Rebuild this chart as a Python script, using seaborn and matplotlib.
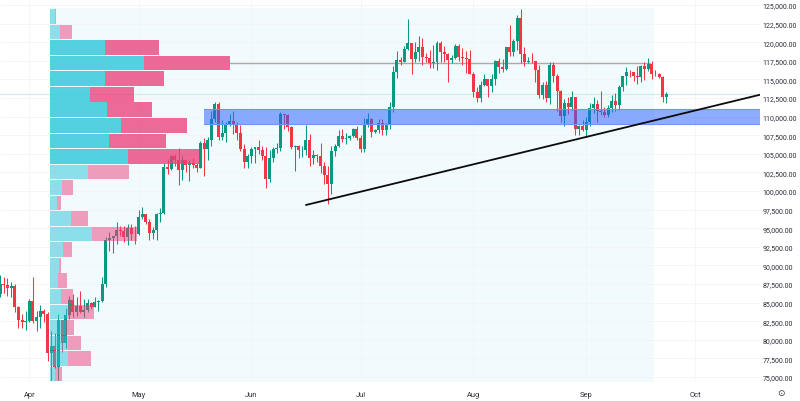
import numpy as np
import pandas as pd
import matplotlib
matplotlib.use("Agg")
import matplotlib.pyplot as plt
import seaborn as sns

first_day = "2025-03-24"
opens = [86100,87500,87400,86900,87200,84350,82600,82400,
82550,85150,82500,83100,83850,83500,78200,79200,76300,82600,79600,83400,85300,83700,84550,83700,84050,84950,84450,85050,85150,87500,93450,93700,93950,94700,94650,93750,95050,94250,
94200,96500,96900,95850,94300,94750,96850,97050,103250,102950,104650,104100,102800,104150,103500,103750,103500,103150,106450,105600,106800,109650,111700,107300,107800,108950,109450,109000,107800,105600,103950,
104650,105700,105900,105450,104750,101550,104400,105650,105750,110300,110250,108650,105900,106050,105450,105550,106800,104500,104800,104650,103300,102150,100950,105400,106050,107350,106950,107100,107350,108400,
107150,105700,108850,109650,107950,108250,109200,108250,108950,111300,115950,117550,117400,119100,119850,117750,118650,119400,117950,117900,117250,117400,119950,118700,118400,117600,117900,119450,118000,117850,117800,
115750,113300,112550,114200,115050,114100,115000,117500,116700,116450,119300,118700,120150,123300,118350,117400,117500,117450,116250,112900,114250,112500,116900,115400,113500,110100,111800,111250,112600,108400,108800,
108250,109250,111200,111700,110700,110650,110200,111150,112050,111500,113950,115500,116050,115950,115400,115350,116800,116450,117100,115700,115700,115300,112700]
highs = [88700,88500,88250,87800,87500,84600,83500,83900,
85500,88500,83900,84700,84200,83800,81200,80900,83500,82700,84300,85900,86100,85800,86500,85500,85500,85100,85700,85300,88500,93800,94500,94000,95800,95300,95300,95600,95500,95300,
97400,97900,96950,96300,95200,97000,97700,103800,104300,104900,105000,105800,104900,104300,104200,104500,103700,106700,107100,107300,110800,112000,111950,109500,109300,110400,110700,109300,108900,106300,105000,
105900,105950,106800,106000,105900,105500,105900,106500,110600,110400,110400,108800,106200,106200,106100,108900,107700,105500,105000,106500,103900,103400,106000,106300,108200,108300,107800,107500,108500,108800,
107550,109800,110500,109750,108400,109700,109700,109200,111900,116800,118800,118000,119500,123100,119950,120000,120800,120600,118500,118900,119650,120200,120100,119500,118500,118300,119800,119800,119200,118800,118900,
116000,114000,114800,115700,115100,115700,117600,117900,117800,119300,122300,120400,123700,124500,119300,118000,118600,117500,117000,114600,114800,117400,117300,115700,113600,112400,112600,113500,112700,108900,109500,
109900,111800,112600,112200,113400,111300,111600,112900,113200,114300,115500,116650,116300,116050,116800,117000,117300,117900,117450,116300,115900,115450,113300]
lows = [85700,86300,85900,85800,83800,81650,81600,81300,
82450,82300,81200,81650,82400,77200,74500,76200,74600,78400,78900,82800,83000,83200,83600,83100,83800,84100,84350,83900,85100,87100,91900,91700,92900,93900,93100,92800,93400,92900,
94100,96300,95600,93400,93500,93400,95800,96900,102300,102800,103300,100800,101500,102600,101400,103100,102600,103100,102000,104200,106100,109300,106800,106900,106600,108700,107600,106800,105400,103100,103100,
103800,103700,105000,104200,100400,101200,103900,105100,105400,108300,108100,105700,102700,104500,104600,104900,103300,103600,103900,102400,100900,98200,99600,104700,105900,106600,106300,106800,107200,106800,
105300,105200,108600,107300,107800,107800,107500,107500,108400,110600,115200,116900,117300,118900,115700,117400,117500,117000,117300,116500,116500,116200,117300,117400,114700,117200,117800,117500,116900,115800,115700,
112700,112000,111900,114100,112650,113350,114300,115900,116000,116300,118100,118200,118900,117200,116800,117200,117200,114700,112500,112300,112000,111700,114600,110800,109300,108800,110400,110900,107500,107500,108100,
107300,108700,110500,109300,110200,110000,110000,110650,110800,110900,113400,114300,115300,114800,114400,114700,114900,116150,115100,115500,115200,111900,111800]
closes = [87500,87400,86900,87200,84350,82600,82400,82550,
85150,82500,83100,83850,83500,78200,79200,76300,82600,79600,83400,85300,83700,84550,83700,84050,84950,84450,85050,85150,87500,93450,93700,93950,94700,94650,93750,95050,94250,94200,
96500,96900,95850,94300,94750,96850,97050,103250,102950,104650,104100,102800,104150,103500,103750,103500,103150,106450,105600,106800,109650,111700,107300,107800,108950,109450,109000,107800,105600,103950,104650,
105700,105900,105450,104750,101550,104400,105650,105750,110300,110250,108650,105900,106050,105450,105550,106800,104500,104800,104650,103300,102150,100950,105400,106050,107350,106950,107100,107350,108400,107150,
105700,108850,109650,107950,108250,109200,108250,108950,111300,115950,117550,117400,119100,119850,117750,118650,119400,117950,117900,117250,117400,119950,118700,118400,117600,117900,119450,118000,117850,117800,115750,
113300,112550,114200,115050,114100,115000,117500,116700,116450,119300,118700,120150,123300,118350,117400,117500,117450,116250,112900,114250,112500,116900,115400,113500,110100,111800,111250,112600,108400,108800,108250,
109250,111200,111700,110700,110650,110200,111150,112050,111500,113950,115500,116050,115950,115400,115350,116800,116450,117100,115700,115700,115300,112700,113000]

profile_levels = [123460,121370,119280,117190,115100,113010,110920,108830,106740,104650,102560,100470,98380,96290,94200,92110,90020,87930,85840,83750,81660,79570,77480,75390]
buy_volume = [4.5,10,55,94,55,40,57,71,59,78,38,12,6.7,20.7,42,13.3,9,7.7,11,18.3,16,17.7,17.7,5]
sell_volume = [1.2,11.7,53.5,85.7,59,44,45.3,66.4,56.7,71,41,11,4,17.6,44.7,8.4,2.3,9,11.7,25.7,8,13.3,23.3,7.3]
value_area = [False,False,True,True,True,True,True,True,True,True,False,False,False,False,False,False,False,False,False,False,False,False,False,False]

zone_prices = [111020, 108970]
poc_price = 117200
last_price = 113000
trend_dates = ["2025-06-16 00:00", "2025-10-18 18:00"]
trend_prices = [98120, 112940]
month_ticks = ["2025-04-01","2025-05-01","2025-06-01","2025-07-01","2025-08-01","2025-09-01","2025-10-01"]
month_labels = ["Apr","May","Jun","Jul","Aug","Sep","Oct"]
price_ticks = list(range(75000, 125001, 2500))

GREEN, RED = "#089981", "#F23645"
TEAL, PINK = "#26C6DA", "#EC407A"

sns.set_theme(style="white")
plt.rcParams["font.family"] = ["Roboto", "DejaVu Sans"]

fig = plt.figure(figsize=(8.0, 4.02), dpi=100)
ax = fig.add_axes([0, 20/402, 760/800, 382/402])

days = pd.date_range(first_day, periods=len(closes))
o, h, l, c = map(np.array, (opens, highs, lows, closes))
up = c >= o
colors = np.where(up, GREEN, RED)

ax.fill_between(pd.to_datetime(["2025-04-06 16:00", "2025-09-19 14:00"]), 74000, 124650,
                color="#f1fafd", lw=0, zorder=0)
ax.vlines(days, l, h, colors=colors, lw=0.75, zorder=3)
ax.bar(days, np.abs(c - o), bottom=np.minimum(o, c), width=0.82, color=colors, lw=0, zorder=3)

sns.lineplot(x=pd.to_datetime(["2025-03-20 00:00", "2025-10-18 18:00"]), y=[last_price, last_price],
             color="#d0ebe9", lw=0.9, ax=ax, zorder=2, errorbar=None)
sns.lineplot(x=pd.to_datetime(["2025-05-26 00:00", "2025-09-18 14:00"]), y=[poc_price, poc_price],
             color="#a9aaa9", lw=1.0, ax=ax, zorder=2, errorbar=None)
zone_span = pd.to_datetime(["2025-05-19 00:00", "2025-10-18 18:00"])
ax.fill_between(zone_span, zone_prices[1], zone_prices[0],
                facecolor="#2962ff", alpha=0.52, edgecolor="none", zorder=4)
for z in zone_prices:
    sns.lineplot(x=zone_span, y=[z, z], color="#6f94f5", lw=0.8, ax=ax, zorder=4, errorbar=None)
sns.lineplot(x=pd.to_datetime(trend_dates), y=trend_prices, color="#0b0b0b", lw=1.3, ax=ax, zorder=5, errorbar=None)

base = pd.Timestamp("2025-04-01")
ax.set_xlim(base - pd.Timedelta(days=8.05), base + pd.Timedelta(days=200.73))
ax.set_ylim(74462, 125806)
ax.set_xticks(pd.to_datetime(month_ticks))
ax.set_xticklabels(month_labels)
ax.set_yticks(price_ticks)
ax.set_yticklabels([f"{v:,.2f}" for v in price_ticks])
ax.yaxis.tick_right()
ax.tick_params(axis="y", length=0, pad=2, labelsize=5.0, labelcolor="#2b2e38")
ax.tick_params(axis="x", length=0, pad=7, labelsize=5.4, labelcolor="#2b2e38")
ax.grid(True, color="#f3f4f6", lw=0.6, zorder=1)
ax.set_axisbelow(True)
ax.set_xlabel(""); ax.set_ylabel("")
for s in ax.spines.values():
    s.set_visible(False)

ax2 = ax.twiny()
sns.barplot(x=buy_volume, y=profile_levels, orient="y", native_scale=True, color=TEAL,
            saturation=1, width=0.945, errorbar=None, linewidth=0, ax=ax2)
n_buy = len(ax2.patches)
sns.barplot(x=sell_volume, y=profile_levels, orient="y", native_scale=True, color=PINK,
            saturation=1, width=0.945, errorbar=None, linewidth=0, ax=ax2)
lev = np.array(profile_levels)
patches = list(ax2.patches)
for k, p in enumerate(patches):
    i = int(np.argmin(np.abs(lev - (p.get_y() + p.get_height() / 2))))
    if k >= n_buy:
        p.set_x(buy_volume[i])
    p.set_alpha(0.78 if value_area[i] else 0.5)
ax2.set_xlim(-50, 710)
ax2.set_ylim(74462, 125806)
ax2.set_axis_off()

fig.text(781/800, 1 - 394/402, "\u2299", family="DejaVu Sans", fontsize=6.5, color="#2b2e38", ha="center", va="center")
fig.savefig("out.png", dpi=100)
